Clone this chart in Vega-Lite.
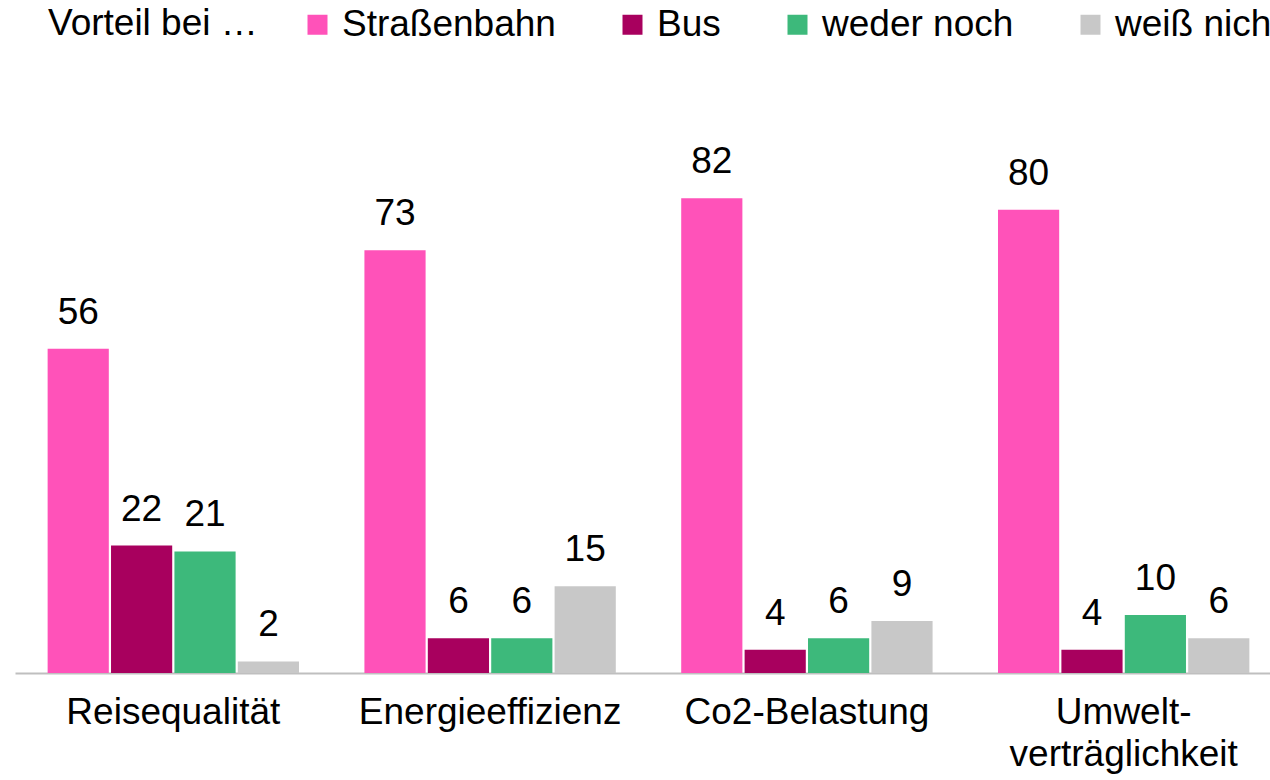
{
  "$schema": "https://vega.github.io/schema/vega-lite/v6.json",
  "autosize": {"type": "none"},
  "width": 1267,
  "height": 579,
  "padding": {"left": 15, "top": 94, "right": 0, "bottom": 107},
  "background": "white",
  "config": {
    "view": {"stroke": null},
    "font": "Liberation Sans",
    "text": {"font": "Liberation Sans"}
  },
  "data": {
    "values": [
      {"Kategorie": "Reisequalität", "Serie": "Straßenbahn", "Wert": 56},
      {"Kategorie": "Reisequalität", "Serie": "Bus", "Wert": 22},
      {"Kategorie": "Reisequalität", "Serie": "weder noch", "Wert": 21},
      {"Kategorie": "Reisequalität", "Serie": "weiß nicht", "Wert": 2},
      {"Kategorie": "Energieeffizienz", "Serie": "Straßenbahn", "Wert": 73},
      {"Kategorie": "Energieeffizienz", "Serie": "Bus", "Wert": 6},
      {"Kategorie": "Energieeffizienz", "Serie": "weder noch", "Wert": 6},
      {"Kategorie": "Energieeffizienz", "Serie": "weiß nicht", "Wert": 15},
      {"Kategorie": "Co2-Belastung", "Serie": "Straßenbahn", "Wert": 82},
      {"Kategorie": "Co2-Belastung", "Serie": "Bus", "Wert": 4},
      {"Kategorie": "Co2-Belastung", "Serie": "weder noch", "Wert": 6},
      {"Kategorie": "Co2-Belastung", "Serie": "weiß nicht", "Wert": 9},
      {"Kategorie": "Umwelt-\nverträglichkeit", "Serie": "Straßenbahn", "Wert": 80},
      {"Kategorie": "Umwelt-\nverträglichkeit", "Serie": "Bus", "Wert": 4},
      {"Kategorie": "Umwelt-\nverträglichkeit", "Serie": "weder noch", "Wert": 10},
      {"Kategorie": "Umwelt-\nverträglichkeit", "Serie": "weiß nicht", "Wert": 6}
    ]
  },
  "encoding": {
    "x": {
      "field": "Kategorie",
      "type": "nominal",
      "sort": ["Reisequalität", "Energieeffizienz", "Co2-Belastung", "Umwelt-\nverträglichkeit"],
      "scale": {"paddingInner": 0.2065, "paddingOuter": 0.103},
      "axis": {
        "title": null,
        "labelAngle": 0,
        "ticks": false,
        "domainColor": "#bfbfbf",
        "domainWidth": 2,
        "labelFont": "Liberation Sans",
        "labelFontSize": 37,
        "labelColor": "#000000",
        "labelPadding": 21,
        "labelLineHeight": 42,
        "labelLimit": 400,
        "labelExpr": "split(datum.label, '\\n')"
      }
    },
    "xOffset": {
      "field": "Serie",
      "type": "nominal",
      "sort": ["Straßenbahn", "Bus", "weder noch", "weiß nicht"],
      "scale": {"paddingInner": 0.035}
    },
    "y": {
      "field": "Wert",
      "type": "quantitative",
      "scale": {"domain": [0, 100]},
      "axis": null
    }
  },
  "layer": [
    {
      "mark": {"type": "bar"},
      "encoding": {
        "color": {
          "field": "Serie",
          "type": "nominal",
          "sort": ["Straßenbahn", "Bus", "weder noch", "weiß nicht"],
          "scale": {
            "domain": ["Straßenbahn", "Bus", "weder noch", "weiß nicht"],
            "range": ["#ff52b9", "#a8005e", "#3db97b", "#c8c8c8"]
          },
          "legend": {
            "orient": "none",
            "legendX": 33,
            "legendY": -88,
            "direction": "horizontal",
            "title": "Vorteil bei …",
            "titleOrient": "left",
            "titleFont": "Liberation Sans",
            "titleFontSize": 37,
            "titleFontWeight": "normal",
            "titleColor": "#000000",
            "titlePadding": 41,
            "titleLimit": 400,
            "titleBaseline": "middle",
            "labelFont": "Liberation Sans",
            "labelFontSize": 37,
            "labelColor": "#000000",
            "labelLimit": 400,
            "labelOffset": 6,
            "symbolType": "square",
            "symbolSize": 400,
            "symbolStrokeWidth": 0,
            "symbolOpacity": 1,
            "columnPadding": 58,
            "padding": 0
          }
        }
      }
    },
    {
      "mark": {
        "type": "text",
        "font": "Liberation Sans",
        "fontSize": 37,
        "color": "#000000",
        "baseline": "alphabetic",
        "dy": -25
      },
      "encoding": {
        "text": {"field": "Wert", "type": "quantitative"}
      }
    }
  ]
}
